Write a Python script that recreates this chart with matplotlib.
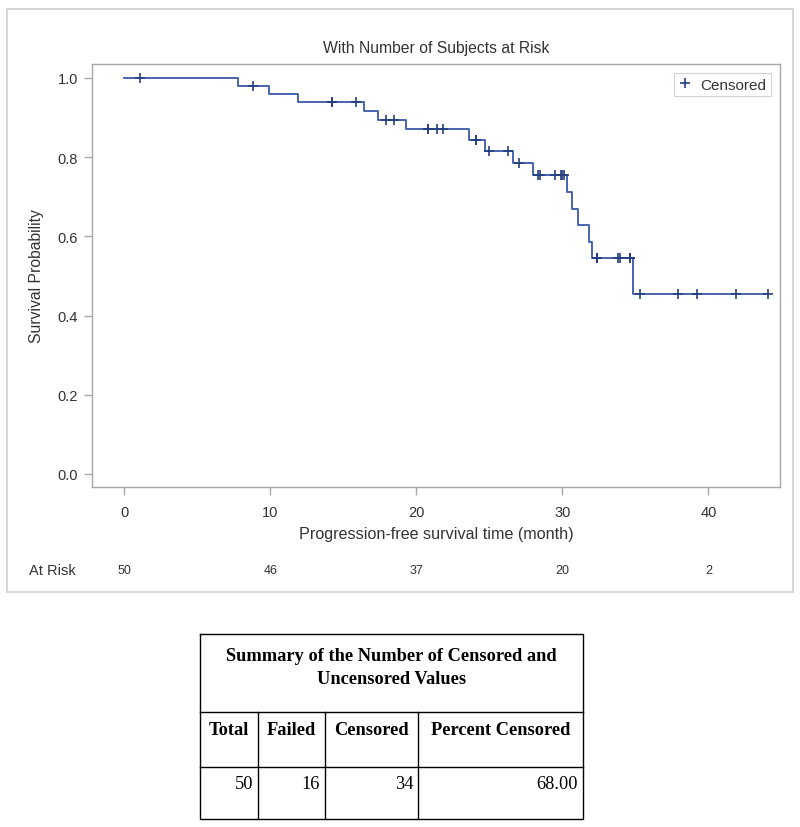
import numpy as np
import matplotlib
matplotlib.use("Agg")
import matplotlib.pyplot as plt
from matplotlib.lines import Line2D
from matplotlib.patches import Rectangle

plt.rcParams['font.family'] = ['Liberation Sans', 'DejaVu Sans']

# ---------------- data ----------------
step_times = [0.0, 7.8, 9.9, 11.9, 16.4, 17.35, 19.3, 23.6, 24.7, 26.6, 28.0,
              30.35, 30.65, 31.1, 31.8, 32.0, 34.85]
survival = [1.0, 0.9796, 0.9588, 0.9379, 0.9156, 0.8933, 0.8698, 0.8434, 0.8153,
            0.7851, 0.7537, 0.7118, 0.6699, 0.6281, 0.5862, 0.5443, 0.4536]
end_time = 44.1
censor_times = [1.1, 8.8, 14.2, 14.2, 15.9, 17.9, 18.5, 20.8, 20.8, 21.4, 21.85,
                24.1, 24.1, 24.95, 26.3, 27.0, 28.3, 28.5, 29.5, 29.9, 30.0, 30.1,
                32.4, 32.4, 32.4, 33.8, 33.95, 34.6, 34.6, 35.3, 37.9, 39.2, 41.9, 44.1]

risk_times = [0, 10, 20, 30, 40]
at_risk = [50, 46, 37, 20, 2]

x_ticks = [0, 10, 20, 30, 40]
y_ticks = [0.0, 0.2, 0.4, 0.6, 0.8, 1.0]

table_title = "Summary of the Number of Censored and\nUncensored Values"
table_headers = ["Total", "Failed", "Censored", "Percent Censored"]
table_values = ["50", "16", "34", "68.00"]

title = "With Number of Subjects at Risk"
xlabel = "Progression-free survival time (month)"
ylabel = "Survival Probability"

# ---------------- figure ----------------
W, H = 800, 828
fig = plt.figure(figsize=(W / 100, H / 100), dpi=100)
fig.patch.set_facecolor('white')

def fx(px):
    return px / W

def fy(py):
    return 1 - py / H

line_col = '#3A58AA'
mark_col = '#243F80'
gray = '#A8A8A8'
txt = '#333333'

ax = fig.add_axes([fx(92), fy(488), fx(780) - fx(92), fy(65) - fy(488)])
x_step = list(step_times) + [end_time]
y_step = list(survival) + [survival[-1]]
ax.step(x_step, y_step, where='post', color=line_col, lw=1.3, zorder=3)

st = np.array(step_times)
idx = np.searchsorted(st, np.array(censor_times), side='right') - 1
cy = np.array(survival)[idx]
ax.plot(censor_times, cy, linestyle='none', marker='+', markersize=7,
        mew=1.2, color=mark_col, zorder=4)

ax.set_xlim(-2.2, 44.9)
ax.set_ylim(-0.033, 1.035)
ax.set_xticks(x_ticks)
ax.set_yticks(y_ticks)
ax.set_yticklabels([f"{v:.1f}" for v in y_ticks])
for s in ax.spines.values():
    s.set_color(gray)
    s.set_linewidth(1.0)
ax.tick_params(axis='both', direction='out', length=6, width=1.0, color=gray,
               labelcolor=txt, labelsize=10.5)
ax.tick_params(axis='x', pad=7)
ax.tick_params(axis='y', pad=4)

ax.set_title(title, fontsize=11.3, color=txt, pad=9)
ax.set_xlabel(xlabel, fontsize=11.6, color=txt, labelpad=5)
ax.set_ylabel(ylabel, fontsize=11.3, color=txt, labelpad=10)

leg_handle = Line2D([], [], linestyle='none', marker='+', markersize=7, mew=1.2,
                    color=mark_col)
leg = ax.legend([leg_handle], ['Censored'], loc='upper right', fontsize=11,
                frameon=True, fancybox=False, handlelength=0.8, handletextpad=0.6,
                borderpad=0.3, borderaxespad=0.6, labelcolor=txt)
leg.get_frame().set_edgecolor('#C8C8C8')
leg.get_frame().set_linewidth(0.8)

# At-risk row
ax.text(-0.091, -0.196, "At Risk", transform=ax.transAxes, ha='left', va='center',
        fontsize=10.5, color=txt)
trans = ax.get_xaxis_transform()
for t, n in zip(risk_times, at_risk):
    ax.text(t, -0.196, str(n), transform=trans, ha='center', va='center',
            fontsize=9, color=txt)

# Overlay for borders and table
ov = fig.add_axes([0, 0, 1, 1], zorder=-1)
ov.set_xlim(0, W)
ov.set_ylim(H, 0)
ov.axis('off')
ov.add_patch(Rectangle((7, 10), 786, 583, fill=False, edgecolor='#D0D0D0', lw=1.2))

ov2 = fig.add_axes([0, 0, 1, 1], zorder=5)
ov2.set_xlim(0, W)
ov2.set_ylim(H, 0)
ov2.axis('off')
ov2.patch.set_alpha(0)

tl, tr = 200, 583
ttop, r1, r2, tbot = 635, 713, 768, 820
cols = [200, 258, 325, 418, 583]
kw = dict(color='black', lw=1.0)
ov2.plot([tl, tr, tr, tl, tl], [ttop, ttop, tbot, tbot, ttop], **kw)
ov2.plot([tl, tr], [r1, r1], **kw)
ov2.plot([tl, tr], [r2, r2], **kw)
for c in cols[1:-1]:
    ov2.plot([c, c], [r1, tbot], **kw)

serif = ['Liberation Serif', 'DejaVu Serif']
ov2.text((tl + tr) / 2, 668, table_title, ha='center', va='center', fontsize=13.2,
         fontweight='bold', family=serif, linespacing=1.45)
for i, h in enumerate(table_headers):
    ov2.text((cols[i] + cols[i + 1]) / 2, 731, h, ha='center', va='center',
             fontsize=13.2, fontweight='bold', family=serif)
for i, v in enumerate(table_values):
    ov2.text(cols[i + 1] - 5, 785, v, ha='right', va='center', fontsize=13.2,
             family=serif)

fig.savefig('out.png', dpi=100, facecolor='white')
